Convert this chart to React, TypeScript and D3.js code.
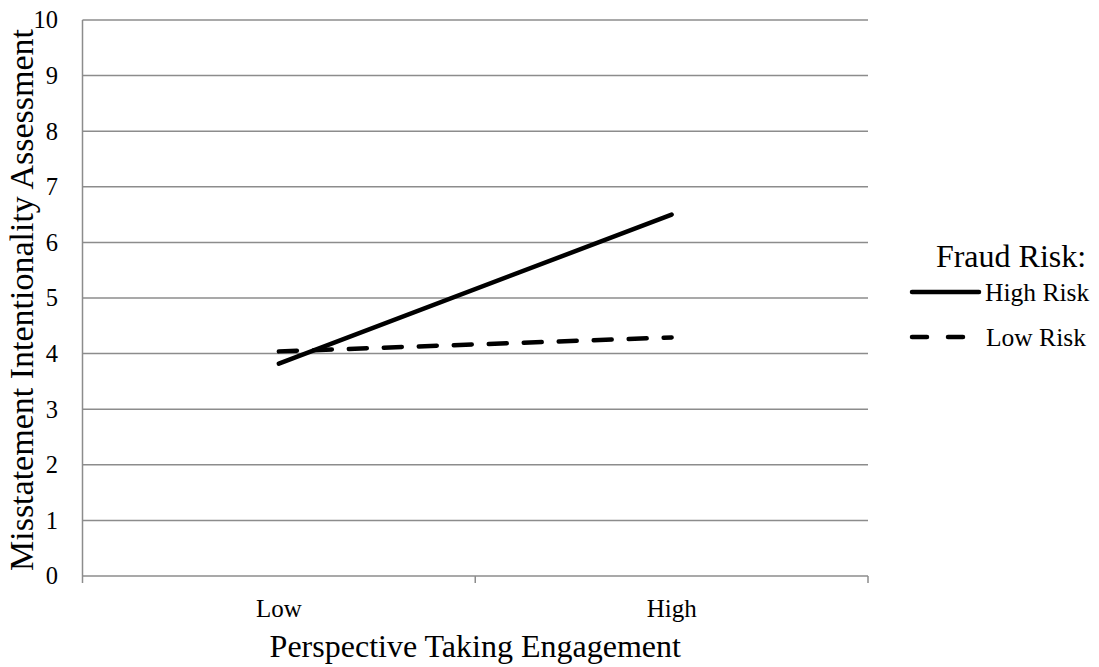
import React from "react";
import * as d3 from "d3";

const categories = ["Low", "High"];
const highRisk = [3.82, 6.5];
const lowRisk = [4.04, 4.29];
const yTicks = [0, 1, 2, 3, 4, 5, 6, 7, 8, 9, 10];
const seriesNames = ["High Risk", "Low Risk"];

export default function App() {
  const W = 1099, H = 667;
  const left = 82.5, right = 868, top = 20, bottom = 576;
  const x = d3.scaleBand<string>().domain(categories).range([left, right]);
  const y = d3.scaleLinear().domain([0, 10]).range([bottom, top]);
  const cx = (c: string) => (x(c) as number) + x.bandwidth() / 2;
  const line = d3.line<number>().x((_, i) => cx(categories[i])).y((d) => y(d));
  const font = "'Liberation Serif', 'Times New Roman', serif";
  const grid = "#8c8c8c";
  const xTickPos = [left, left + x.bandwidth(), right];
  return (
    <svg width={W} height={H} style={{ position: "absolute", left: 0, top: 0 }} fontFamily={font}>
      <rect width={W} height={H} fill="#fff" />
      {yTicks.map((t) => (
        <g key={t}>
          <line x1={left} x2={right} y1={y(t)} y2={y(t)} stroke={grid} strokeWidth={1.5} />
          <text x={58} y={y(t)} dy="0.34em" textAnchor="end" fontSize={24.5}>{t}</text>
        </g>
      ))}
      <line x1={left} x2={left} y1={top} y2={bottom} stroke={grid} strokeWidth={1.5} />
      {xTickPos.map((p, i) => (
        <line key={i} x1={p} x2={p} y1={bottom} y2={bottom + 7} stroke={grid} strokeWidth={1.5} />
      ))}
      {categories.map((c) => (
        <text key={c} x={cx(c)} y={617} textAnchor="middle" fontSize={25}>{c}</text>
      ))}
      <text x={(left + right) / 2} y={657} textAnchor="middle" fontSize={32}>Perspective Taking Engagement</text>
      <text transform={`translate(33,${(top + bottom) / 2 + 2}) rotate(-90)`} textAnchor="middle" fontSize={34}>
        Misstatement Intentionality Assessment
      </text>
      <path d={line(lowRisk) || ""} fill="none" stroke="#000" strokeWidth={4.5} strokeDasharray="18 17" strokeLinecap="round" />
      <path d={line(highRisk) || ""} fill="none" stroke="#000" strokeWidth={4.5} strokeLinecap="round" />
      <text x={1011} y={267} textAnchor="middle" fontSize={32}>Fraud Risk:</text>
      <line x1={912} x2={979} y1={292} y2={292} stroke="#000" strokeWidth={4.5} strokeLinecap="round" />
      <text x={985} y={301} fontSize={25.5}>{seriesNames[0]}</text>
      <line x1={912} x2={964} y1={337} y2={337} stroke="#000" strokeWidth={4.5} strokeDasharray="15 21" strokeLinecap="round" />
      <text x={986} y={346} fontSize={25.5}>{seriesNames[1]}</text>
    </svg>
  );
}
